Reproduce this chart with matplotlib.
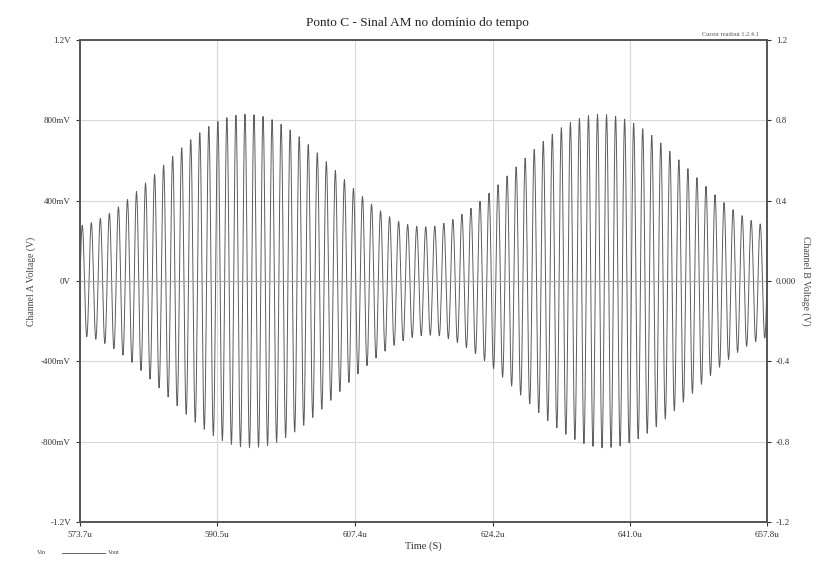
import matplotlib
matplotlib.use("Agg")
import matplotlib.pyplot as plt
import numpy as np

plt.rcParams['font.family'] = ['Liberation Serif', 'DejaVu Serif']

title = "Ponto C - Sinal AM no domínio do tempo"
x_label = "Time (S)"
y_label_left = "Channel A Voltage (V)"
y_label_right = "Channel B Voltage (V)"

# time ticks (µs) and labels
x_ticks = [573.7, 590.5, 607.4, 624.2, 641.0, 657.8]
x_tick_labels = ["573.7u", "590.5u", "607.4u", "624.2u", "641.0u", "657.8u"]

# left axis ticks (V)
y_ticks = [-1.2, -0.8, -0.4, 0.0, 0.4, 0.8, 1.2]
y_tick_labels = ["-1.2V", "-800mV", "-400mV", "0V", "400mV", "800mV", "1.2V"]
y_right_labels = ["-1.2", "-0.8", "-0.4", "0.000", "0.4", "0.8", "1.2"]

# peak amplitude (V) of each carrier cycle
peaks = [0.277, 0.290, 0.311, 0.337, 0.369, 0.405, 0.445, 0.488, 0.532, 0.577,
         0.621, 0.663, 0.703, 0.738, 0.769, 0.794, 0.813, 0.825, 0.830, 0.827,
         0.819, 0.803, 0.780, 0.752, 0.718, 0.679, 0.638, 0.594, 0.550, 0.505,
         0.462, 0.421, 0.383, 0.349, 0.320, 0.297, 0.281, 0.272, 0.270, 0.273,
         0.287, 0.306, 0.332, 0.362, 0.397, 0.437, 0.479, 0.523, 0.568, 0.612,
         0.655, 0.695, 0.731, 0.763, 0.789, 0.809, 0.823, 0.830, 0.828, 0.821,
         0.806, 0.785, 0.758, 0.725, 0.687, 0.646, 0.603, 0.559, 0.514, 0.471,
         0.429, 0.390, 0.355, 0.325, 0.301, 0.284]

fig = plt.figure(figsize=(8.34, 5.61), dpi=100)
ax = fig.add_axes([80/834, 1-522/561, (767-80)/834, (522-40)/561])

t0, t1 = x_ticks[0], x_ticks[-1]
n = len(peaks)
T = (t1 - t0) / n
phase = np.linspace(0, 1, 24, endpoint=False)
shape = np.sin(2 * np.pi * phase)
times = []
vals = []
for i, p in enumerate(peaks):
    times.append(t0 + (i + phase) * T)
    vals.append(p * shape)
times = np.concatenate(times)
vals = np.concatenate(vals)
ax.plot(times, vals, color='#5c5c5c', lw=0.7)

ax.set_xlim(t0, t1)
ax.set_ylim(-1.2, 1.2)
ax.set_xticks(x_ticks)
ax.set_xticklabels(x_tick_labels)
ax.set_yticks(y_ticks)
ax.set_yticklabels(y_tick_labels)
ax.grid(True, color='#d8d8d8', lw=0.8)
ax.axhline(0, color='#aaaaaa', lw=0.8)
for s in ax.spines.values():
    s.set_color('#555555')
    s.set_linewidth(1.2)
ax.tick_params(colors='#333333', labelsize=6.5, length=3, width=0.8)

ax2 = ax.twinx()
ax2.set_ylim(-1.2, 1.2)
ax2.set_yticks(y_ticks)
ax2.set_yticklabels(y_right_labels)
ax2.tick_params(colors='#333333', labelsize=6.5, length=3, width=0.8)
for s in ax2.spines.values():
    s.set_color('#555555')
    s.set_linewidth(1.2)

ax.set_xlabel(x_label, fontsize=7.5, color='#333333', labelpad=2)
ax.set_ylabel(y_label_left, fontsize=7, color='#444444', labelpad=4)
ax2.set_ylabel(y_label_right, fontsize=7, color='#444444', rotation=270, labelpad=10)
fig.text(0.5, 1-23/561, title, ha='center', va='center', fontsize=9.5, color='#222222')

fig.text(730/834, 1-34/561, "Cursor readout 1.2.4.1", ha='center', va='center',
         fontsize=4.5, color='#555555')
fig.text(37/834, 1-553/561, "Vin", ha='left', va='center', fontsize=4.5, color='#444444')
fig.add_artist(plt.Line2D([62/834, 105/834], [1-553/561]*2, color='#666666', lw=0.7))
fig.text(108/834, 1-553/561, "Vout", ha='left', va='center', fontsize=4.5, color='#444444')

fig.savefig("out.png", dpi=100)
